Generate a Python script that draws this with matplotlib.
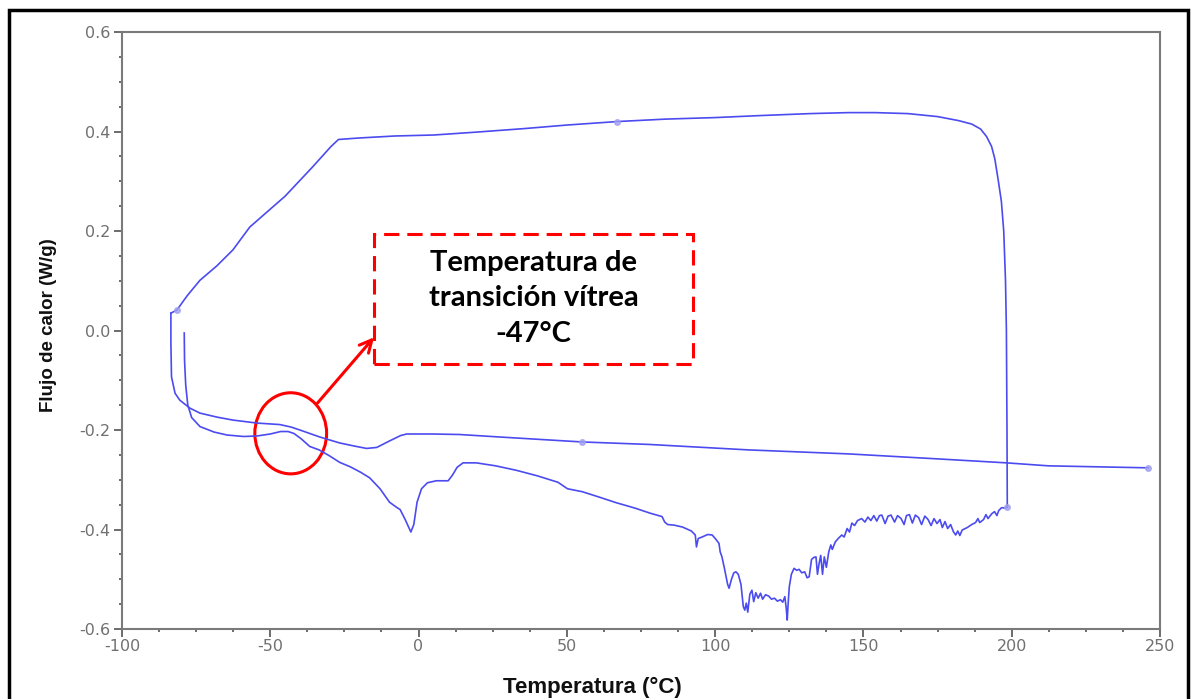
import matplotlib.pyplot as plt
from matplotlib.patches import Ellipse, Rectangle
from matplotlib.ticker import MultipleLocator

plt.rcParams['axes.unicode_minus'] = False

# first heating (-79 -> 199 C)
heat1_t = [-79.0, -78.9, -78.5, -77.8, -76.5, -73.7, -69, -64.6, -59, -54.5, -50, -46.5, -44, -42,
           -39.5, -36.7, -33.5, -30, -26.6, -23, -19.5, -16.5, -13, -9.8, -7.5, -6.2, -4.5, -2.6,
           -1.6, -0.5, 1, 3, 6, 10, 11.5, 13, 15, 19.5, 26, 33, 40, 47, 50.2, 55.2, 61, 66.6, 73,
           78, 82.1, 83, 84, 86, 89, 92, 93.3, 93.7, 94.3, 95.6, 97.5, 99, 100.3, 101.3, 101.7,
           102.3, 103.2, 104.2, 104.7, 105.5, 106.3, 107, 107.8, 108.7, 109.5, 110, 110.5, 111,
           111.7, 112.4, 113, 113.7, 114.5, 115.3, 116, 117, 118.1, 119, 120, 121, 122, 122.8,
           123.5, 124.0, 124.3, 124.6, 125, 125.7, 126.6, 127.5, 128.3, 129.2, 130.2, 131, 131.7,
           132.5, 133.3, 134, 134.5, 135, 135.6, 136.2, 136.8, 137.5, 138.3, 139, 139.5, 140.5,
           141.5, 142.7, 143.5, 144.5, 145.3, 146.1, 147, 148, 149.4, 150.5, 151.5, 152.5, 153.5,
           154.5, 155.4, 156.2, 157.3, 158.3, 159.3, 160.5, 161.5, 162.7, 163.7, 164.5, 165.5,
           166.5, 167.5, 168.6, 169.6, 170.7, 171.8, 172.8, 173.8, 174.8, 175.8, 176.6, 177.5,
           178.4, 179.4, 180.3, 181.1, 181.8, 182.5, 183.3, 185, 186.5, 187.8, 188.6, 189.2,
           190.5, 191.3, 192.0, 193.3, 194.2, 195, 195.6, 196.6, 197.9, 198.5]
heat1_q = [-0.005, -0.06, -0.11, -0.150, -0.175, -0.193, -0.204, -0.210, -0.213, -0.212, -0.208,
           -0.203, -0.203, -0.207, -0.218, -0.233, -0.240, -0.252, -0.265, -0.274, -0.285, -0.296,
           -0.318, -0.345, -0.355, -0.360, -0.380, -0.405, -0.390, -0.345, -0.318, -0.306, -0.302,
           -0.302, -0.29, -0.275, -0.266, -0.266, -0.272, -0.281, -0.292, -0.305, -0.318, -0.324,
           -0.335, -0.346, -0.357, -0.367, -0.374, -0.385, -0.39, -0.391, -0.395, -0.403, -0.411,
           -0.435, -0.418, -0.415, -0.41, -0.411, -0.42, -0.428, -0.445, -0.455, -0.48, -0.51,
           -0.518, -0.50, -0.487, -0.485, -0.49, -0.51, -0.555, -0.562, -0.548, -0.566, -0.53,
           -0.522, -0.545, -0.527, -0.538, -0.528, -0.540, -0.531, -0.534, -0.540, -0.538, -0.544,
           -0.541, -0.546, -0.535, -0.56, -0.582, -0.55, -0.515, -0.49, -0.478, -0.482, -0.48,
           -0.487, -0.485, -0.497, -0.495, -0.46, -0.456, -0.455, -0.49, -0.47, -0.452, -0.49,
           -0.455, -0.476, -0.445, -0.431, -0.44, -0.425, -0.418, -0.411, -0.415, -0.398, -0.405,
           -0.387, -0.392, -0.382, -0.378, -0.385, -0.375, -0.382, -0.372, -0.383, -0.372, -0.371,
           -0.388, -0.373, -0.371, -0.385, -0.372, -0.378, -0.39, -0.372, -0.370, -0.387, -0.371,
           -0.376, -0.39, -0.373, -0.38, -0.392, -0.378, -0.388, -0.38, -0.396, -0.384, -0.398,
           -0.39, -0.404, -0.411, -0.403, -0.412, -0.401, -0.396, -0.39, -0.386, -0.378, -0.386,
           -0.380, -0.370, -0.378, -0.368, -0.364, -0.372, -0.362, -0.356, -0.357, -0.355]

# cooling (199 -> -83.5 C)
cool_t = [198.5, 198.4, 198.2, 197.9, 197.3, 196.5, 195.5, 194.3, 193.2, 191.5, 189.5, 186.5, 182,
          175, 165, 154, 145, 132, 115, 100, 83.5, 66.9, 50, 35.9, 20, 5.2, -8, -20, -27, -29.5,
          -35.7, -45, -56.9, -62.6, -68, -73.7, -78, -81.5, -83.5]
cool_q = [-0.355, -0.2, 0.0, 0.1, 0.2, 0.26, 0.30, 0.345, 0.37, 0.39, 0.405, 0.415, 0.422, 0.430,
          0.436, 0.438, 0.438, 0.436, 0.432, 0.428, 0.425, 0.420, 0.413, 0.406, 0.399, 0.393, 0.391,
          0.387, 0.384, 0.370, 0.329, 0.27, 0.208, 0.162, 0.13, 0.101, 0.07, 0.041, 0.035]

# second heating (-83.5 -> 246 C)
heat2_t = [-83.5, -83.5, -83.3, -82.1, -80.5, -77.1, -73.7, -68, -62.6, -54.5, -46.8, -43, -40,
           -33.3, -26.6, -21, -17.5, -14.1, -9.8, -6, -4, 4.7, 13.8, 27.3, 55.2, 77.8, 111.4, 145,
           175, 198.2, 212.4, 246]
heat2_q = [0.035, -0.025, -0.093, -0.126, -0.14, -0.156, -0.166, -0.174, -0.180, -0.186, -0.189,
           -0.194, -0.200, -0.214, -0.226, -0.233, -0.237, -0.235, -0.222, -0.211, -0.208, -0.208,
           -0.209, -0.214, -0.224, -0.229, -0.240, -0.248, -0.258, -0.266, -0.272, -0.276]

mark_t = [-81.5, 66.9, 55.2, 198.5, 246]
mark_q = [0.041, 0.420, -0.224, -0.355, -0.276]

fig = plt.figure(figsize=(11.91, 6.99), dpi=100)
ax = fig.add_axes([0.1024, 0.1001, 0.8716, 0.8541])

line_c = '#4b4bf0'
ax.plot(heat1_t, heat1_q, color=line_c, lw=1.2)
ax.plot(cool_t, cool_q, color=line_c, lw=1.2)
ax.plot(heat2_t, heat2_q, color=line_c, lw=1.2)
ax.plot(mark_t, mark_q, 'o', ms=4, color='#a0a0f0', alpha=0.8)

ax.set_xlim(-100, 250)
ax.set_ylim(-0.6, 0.6)
ax.xaxis.set_major_locator(MultipleLocator(50))
ax.xaxis.set_minor_locator(MultipleLocator(12.5))
ax.yaxis.set_major_locator(MultipleLocator(0.2))
ax.yaxis.set_minor_locator(MultipleLocator(0.05))
ax.yaxis.set_major_formatter(plt.FormatStrFormatter('%.1f'))
ax.tick_params(which='both', direction='out', colors='#606060', labelcolor='#707070',
               labelsize=11.5, top=False, right=False)
ax.tick_params(which='major', length=5.5, width=1.3)
ax.tick_params(which='minor', length=2.5, width=1.3)
ax.tick_params(axis='x', pad=2)
ax.tick_params(axis='y', pad=3)
for s in ax.spines.values():
    s.set_color('#7a7a7a')
    s.set_linewidth(1.5)

# annotation: glass transition
ax.add_patch(Ellipse((-43.1, -0.2066), 24.2, 0.163, fill=False, ec='red', lw=2.2))
ax.annotate('', xy=(-15.0, -0.0136), xytext=(-34.1, -0.146),
            arrowprops=dict(arrowstyle='->', color='red', lw=2.2, mutation_scale=22,
                            shrinkA=0, shrinkB=0))
ax.add_patch(Rectangle((-15.0, -0.067), 107.6, 0.261, fill=False, ec='red', lw=2.2,
                       linestyle=(0, (5, 2.6))))
ax.text(38.8, 0.065, 'Temperatura de\ntransición vítrea\n-47°C', ha='center', va='center',
        fontsize=21, fontweight='bold', family='Lato', linespacing=1.45, color='black')

fig.text(592 / 1191, 1 - 687 / 699, 'Temperatura (°C)', ha='center', va='center',
         fontsize=16, fontweight='bold', family='Liberation Sans', color='#101010')
fig.text(49 / 1191, 1 - 325 / 699, 'Flujo de calor (W/g)', ha='center', va='center',
         rotation=90, fontsize=13.5, fontweight='bold', family='Liberation Sans', color='#101010')

# outer frame
fig.add_artist(Rectangle((9 / 1191, -0.05), 1179 / 1191, 1.05 - 9.5 / 699,
                         transform=fig.transFigure, fill=False, ec='black', lw=2.5))

fig.savefig('out.png', dpi=100)
